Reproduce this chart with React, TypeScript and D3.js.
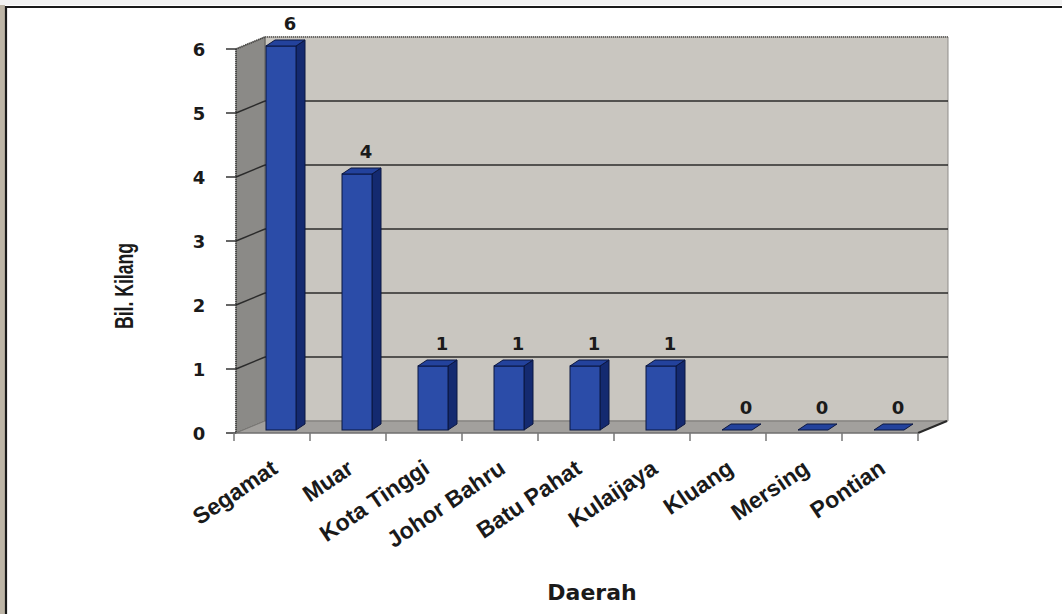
import React from "react";
import * as d3 from "d3";

const categories = ["Segamat", "Muar", "Kota Tinggi", "Johor Bahru", "Batu Pahat", "Kulaijaya", "Kluang", "Mersing", "Pontian"];
const values = [6, 4, 1, 1, 1, 1, 0, 0, 0];
const yTicks = [0, 1, 2, 3, 4, 5, 6];
const yTitle = "Bil. Kilang";
const xTitle = "Daerah";

const W = 1062;
const H = 614;

export default function App() {
  const x = d3.scaleBand<string>().domain(categories).range([234, 918]).paddingInner(0).paddingOuter(0);
  const y = d3.scaleLinear().domain([0, 6]).range([433, 49]);
  const bw = x.bandwidth();

  // wall depth
  const DX = 29;
  const DY = -12;
  const x0 = 236;
  const xEnd = x.range()[1];
  const yTop = y(6);
  const yBase = y(0);

  // bar plane
  const barOffX = 32;
  const barW = 30;
  const barDY = -3;
  const bdx = 9;
  const bdy = -6;

  const pts = (arr: [number, number][]) => arr.map((p) => p.join(",")).join(" ");

  return (
    <svg width={W} height={H} style={{ position: "absolute", left: 0, top: 0, background: "#ffffff" }}>
      {/* page frame */}
      <rect x={0} y={0} width={5} height={H} fill="#bdb5a6" />
      <rect x={0} y={0} width={W} height={5} fill="#f2f2f2" />
      <line x1={6} y1={6} x2={6} y2={H} stroke="#1a1a1a" strokeWidth={2.2} />
      <line x1={5} y1={7} x2={W} y2={7} stroke="#1a1a1a" strokeWidth={2.2} />

      {/* back wall */}
      <polygon
        points={pts([[x0 + DX, yTop + DY], [xEnd + DX + 1, yTop + DY], [xEnd + DX + 1, yBase + DY], [x0 + DX, yBase + DY]])}
        fill="#c9c6c0"
        stroke="#8f8d8a"
        strokeWidth={1}
      />
      <line x1={x0 + DX} y1={yTop + DY} x2={xEnd + DX + 1} y2={yTop + DY} stroke="#6d6b68" strokeWidth={2} strokeDasharray="1 1" />
      {/* left wall */}
      <polygon
        points={pts([[x0, yTop], [x0 + DX, yTop + DY], [x0 + DX, yBase + DY], [x0, yBase]])}
        fill="#8b8a87"
        stroke="#5f5e5b"
        strokeWidth={1}
      />
      <line x1={x0} y1={yTop} x2={x0 + DX} y2={yTop + DY} stroke="#4d4c4a" strokeWidth={2} strokeDasharray="1 1" />
      {/* floor */}
      <polygon
        points={pts([[x0, yBase], [xEnd, yBase], [xEnd + DX, yBase + DY], [x0 + DX, yBase + DY]])}
        fill="#a2a09d"
        stroke="#7a7876"
        strokeWidth={1}
      />
      <line x1={xEnd} y1={yBase} x2={xEnd + DX} y2={yBase + DY} stroke="#2a2a2a" strokeWidth={2} />

      {/* gridlines */}
      {yTicks.filter((t) => t > 0 && t < 6).map((t) => (
        <g key={"g" + t}>
          <line x1={x0 + DX} y1={y(t) + DY} x2={xEnd + DX + 1} y2={y(t) + DY} stroke="#2b2b2b" strokeWidth={1.6} />
          <line x1={x0} y1={y(t)} x2={x0 + DX} y2={y(t) + DY} stroke="#2b2b2b" strokeWidth={1.4} />
        </g>
      ))}

      {/* y axis */}
      <line x1={x0} y1={yTop} x2={x0} y2={yBase} stroke="#3a3a3a" strokeWidth={1.5} strokeDasharray="1 1" />
      {yTicks.map((t) => (
        <g key={"yt" + t}>
          <line x1={226} y1={y(t)} x2={x0} y2={y(t)} stroke="#333" strokeWidth={1.5} />
          <text x={199} y={y(t)} textAnchor="middle" dominantBaseline="central" fontFamily="'DejaVu Sans', Verdana, sans-serif" fontWeight="bold" fontSize={18} fill="#1a1a1a">
            {t}
          </text>
        </g>
      ))}

      {/* x axis */}
      <line x1={x0} y1={yBase} x2={xEnd} y2={yBase} stroke="#6a6a6a" strokeWidth={1.2} />
      {d3.range(categories.length + 1).map((i) => {
        const xx = x.range()[0] + i * bw;
        return <line key={"xt" + i} x1={xx} y1={yBase} x2={xx} y2={yBase + 8} stroke="#777" strokeWidth={1.5} />;
      })}

      {/* bars */}
      {categories.map((c, i) => {
        const v = values[i];
        const bx = (x(c) as number) + barOffX;
        const yt = y(v) + barDY;
        const yb = y(0) + barDY;
        return (
          <g key={"b" + c}>
            {v > 0 && (
              <>
                <polygon points={pts([[bx + barW, yt], [bx + barW + bdx, yt + bdy], [bx + barW + bdx, yb + bdy], [bx + barW, yb]])} fill="#142a70" stroke="#0b1640" strokeWidth={1} />
                <rect x={bx} y={yt} width={barW} height={yb - yt} fill="#2b4ca8" stroke="#0b1640" strokeWidth={1} />
              </>
            )}
            <polygon points={pts([[bx, yt], [bx + bdx, yt + bdy], [bx + barW + bdx, yt + bdy], [bx + barW, yt]])} fill="#23429c" stroke="#0b1640" strokeWidth={1} />
            <text x={(x(c) as number) + 56} y={yt - 16} textAnchor="middle" fontFamily="'DejaVu Sans', Verdana, sans-serif" fontWeight="bold" fontSize={18} fill="#1a1a1a">
              {v}
            </text>
          </g>
        );
      })}

      {/* category labels */}
      {categories.map((c) => {
        const ax = (x(c) as number) + bw / 2 + 7;
        const ay = 472;
        return (
          <text key={"cl" + c} x={ax} y={ay} textAnchor="end" transform={`rotate(-34, ${ax}, ${ay})`} fontFamily="'Liberation Sans', Arial, sans-serif" fontWeight="bold" fontSize={23} fill="#1a1a1a">
            {c}
          </text>
        );
      })}

      {/* axis titles */}
      <text x={0} y={0} transform="translate(133, 286) rotate(-90)" textAnchor="middle" fontFamily="'Liberation Sans Narrow', 'Liberation Sans', Arial, sans-serif" fontWeight="bold" fontSize={25} textLength={86} lengthAdjust="spacingAndGlyphs" fill="#1a1a1a">
        {yTitle}
      </text>
      <text x={592} y={600} textAnchor="middle" fontFamily="'DejaVu Sans', Verdana, sans-serif" fontWeight="bold" fontSize={22} fill="#1a1a1a">
        {xTitle}
      </text>
    </svg>
  );
}
